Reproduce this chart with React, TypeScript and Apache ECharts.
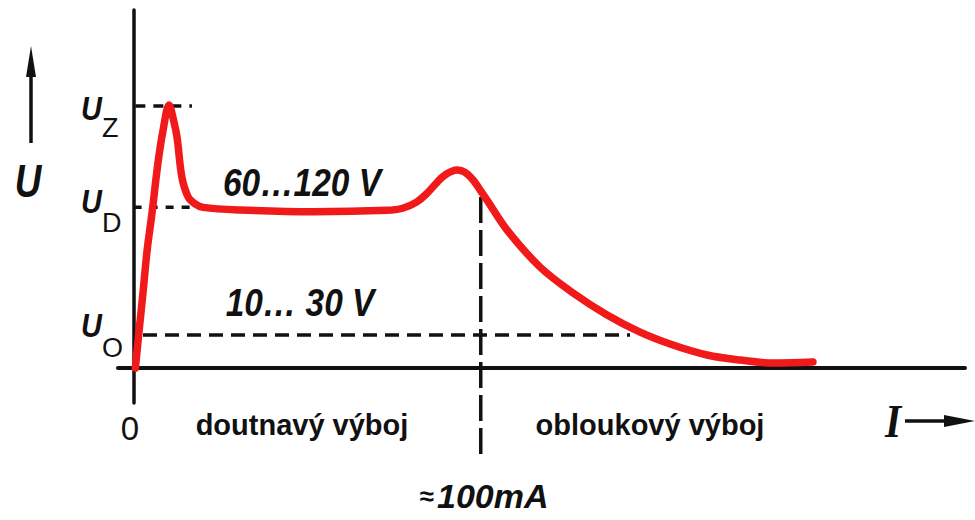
import React, { useEffect, useRef } from "react";
import * as echarts from "echarts";

// Curve I (mA) -> U (V)
const currentMA = [0.5, 1.6, 2.7, 3.9, 5.3, 7.0, 8.5, 10.2, 11.5, 12.5, 13.9, 15.7, 17.7, 20.0, 30.7, 51.7, 73.0, 77.5, 81.5, 84.5, 87.5, 90.0, 93.2, 95.4, 97.8, 99.8, 101.8, 107.6, 117.1, 126.6, 136.4, 145.9, 155.4, 165.2, 174.7, 184.2, 195.7];
const voltageV = [0, 21.8, 43, 67.6, 88.8, 117.3, 136.3, 150.6, 142, 132.3, 109.4, 98, 94, 92, 90.5, 89.5, 90.3, 91.5, 95, 100, 106.5, 111, 113.4, 112.2, 107.7, 102, 96.2, 79, 57.8, 43, 30.4, 20.6, 13.2, 7.5, 4.6, 2.9, 3.5];

// Reference levels
const levelUZ = 150;
const levelUD = 92;
const levelUO = 19;
const arcCurrentMA = 100;
const tickEndMA = 16.8;
const uoLineEndMA = 143;
const vertDashTopV = 98;
const vertDashBottomV = -53;

// Axis ranges
const xRange = [-4.5, 239.5];
const yRange = [-20, 205];

// Texts
const labelRange1 = "60…120 V";
const labelRange2 = "10… 30 V";
const labelGlow = "doutnavý výboj";
const labelArc = "obloukový výboj";
const labelCurrent = "100mA";

const App: React.FC = () => {
  const ref = useRef<HTMLDivElement>(null);
  useEffect(() => {
    if (!ref.current) return;
    const chart = echarts.init(ref.current, undefined, { renderer: "svg" });
    const black = "#111111";
    const red = "#f01a1a";
    const dash = (pts: number[][], pattern: number[], clip = true) => ({
      type: "line",
      data: pts,
      symbol: "none",
      clip,
      silent: true,
      lineStyle: { color: black, width: 3.5, type: pattern },
      z: 1,
    });
    const uFont = { fontFamily: "Liberation Sans", fontStyle: "italic", fontWeight: "bold", fontSize: 34, fill: black };
    const subFont = { fontFamily: "Liberation Sans", fontSize: 27, fill: black };
    const rangeFont = { fontFamily: "Liberation Sans", fontStyle: "italic", fontWeight: "bold", fontSize: 38, fill: black };
    chart.setOption({
      animation: false,
      backgroundColor: "#ffffff",
      grid: { left: 118, top: 10, width: 847, height: 393 },
      xAxis: {
        type: "value",
        min: xRange[0],
        max: xRange[1],
        axisLine: { show: true, onZero: true, lineStyle: { color: black, width: 4 } },
        axisTick: { show: false },
        axisLabel: { show: false },
        splitLine: { show: false },
      },
      yAxis: {
        type: "value",
        min: yRange[0],
        max: yRange[1],
        axisLine: { show: true, onZero: true, lineStyle: { color: black, width: 3.5 } },
        axisTick: { show: false },
        axisLabel: { show: false },
        splitLine: { show: false },
      },
      series: [
        dash([[0.5, levelUZ], [tickEndMA, levelUZ]], [10, 8]),
        dash([[0, levelUD], [tickEndMA, levelUD]], [8, 8]),
        dash([[2.7, levelUO], [uoLineEndMA, levelUO]], [14, 8]),
        dash([[arcCurrentMA, vertDashTopV], [arcCurrentMA, vertDashBottomV]], [26, 7], false),
        {
          type: "line",
          data: currentMA.map((x, i) => [x, voltageV[i]]),
          symbol: "none",
          smooth: 0.35,
          lineStyle: { color: red, width: 7.5, cap: "round", join: "round" },
          z: 3,
        },
      ],
      graphic: [
        // vertical axis label with arrow
        { type: "line", shape: { x1: 31, y1: 143, x2: 31, y2: 70 }, style: { stroke: black, lineWidth: 3.5 } },
        { type: "polygon", shape: { points: [[31, 46], [26, 77], [36, 77]] }, style: { fill: black } },
        { type: "text", x: 28, y: 181, scaleX: 0.8, style: { text: "U", fontFamily: "Liberation Sans", fontStyle: "italic", fontWeight: "bold", fontSize: 46, fill: black, align: "center", verticalAlign: "middle" } },
        // level labels
        { type: "text", x: 102, y: 108, scaleX: 0.85, style: { ...uFont, text: "U", align: "right", verticalAlign: "middle" } },
        { type: "text", x: 102, y: 128, style: { ...subFont, text: "Z", align: "left", verticalAlign: "middle" } },
        { type: "text", x: 102, y: 201, scaleX: 0.85, style: { ...uFont, text: "U", align: "right", verticalAlign: "middle" } },
        { type: "text", x: 102, y: 223, style: { ...subFont, text: "D", align: "left", verticalAlign: "middle" } },
        { type: "text", x: 102, y: 325, scaleX: 0.85, style: { ...uFont, text: "U", align: "right", verticalAlign: "middle" } },
        { type: "text", x: 102, y: 348, style: { ...subFont, text: "O", align: "left", verticalAlign: "middle" } },
        // range labels
        { type: "text", x: 302, y: 183, scaleX: 0.88, style: { ...rangeFont, text: labelRange1, align: "center", verticalAlign: "middle" } },
        { type: "text", x: 300, y: 303, scaleX: 0.88, style: { ...rangeFont, text: labelRange2, align: "center", verticalAlign: "middle" } },
        // origin
        { type: "text", x: 130, y: 428, style: { text: "0", fontFamily: "Liberation Sans", fontSize: 33, fill: black, align: "center", verticalAlign: "middle" } },
        // region labels
        { type: "text", x: 302, y: 425, style: { text: labelGlow, fontFamily: "Liberation Sans", fontWeight: "bold", fontSize: 29, fill: black, align: "center", verticalAlign: "middle" } },
        { type: "text", x: 650, y: 425, style: { text: labelArc, fontFamily: "Liberation Sans", fontWeight: "bold", fontSize: 29, fill: black, align: "center", verticalAlign: "middle" } },
        // current value
        {
          type: "text", x: 484, y: 496,
          style: {
            text: "{a|≈} {b|" + labelCurrent + "}",
            align: "center", verticalAlign: "middle",
            rich: {
              a: { fontFamily: "Liberation Sans", fontWeight: "bold", fontSize: 26, fill: black },
              b: { fontFamily: "Liberation Sans", fontStyle: "italic", fontWeight: "bold", fontSize: 34, fill: black },
            },
          },
        },
        // horizontal axis label with arrow
        { type: "text", x: 893, y: 421, scaleX: 0.9, style: { text: "I", fontFamily: "Liberation Serif", fontStyle: "italic", fontWeight: "bold", fontSize: 46, fill: black, align: "center", verticalAlign: "middle" } },
        { type: "line", shape: { x1: 905, y1: 421, x2: 950, y2: 421 }, style: { stroke: black, lineWidth: 3.5 } },
        { type: "polygon", shape: { points: [[975, 421], [944, 415], [944, 427]] }, style: { fill: black } },
      ],
    });
    return () => chart.dispose();
  }, []);
  return (
    <div
      ref={ref}
      style={{ position: "fixed", left: 0, top: 0, width: 975, height: 520, background: "#fff" }}
    />
  );
};

export default App;
